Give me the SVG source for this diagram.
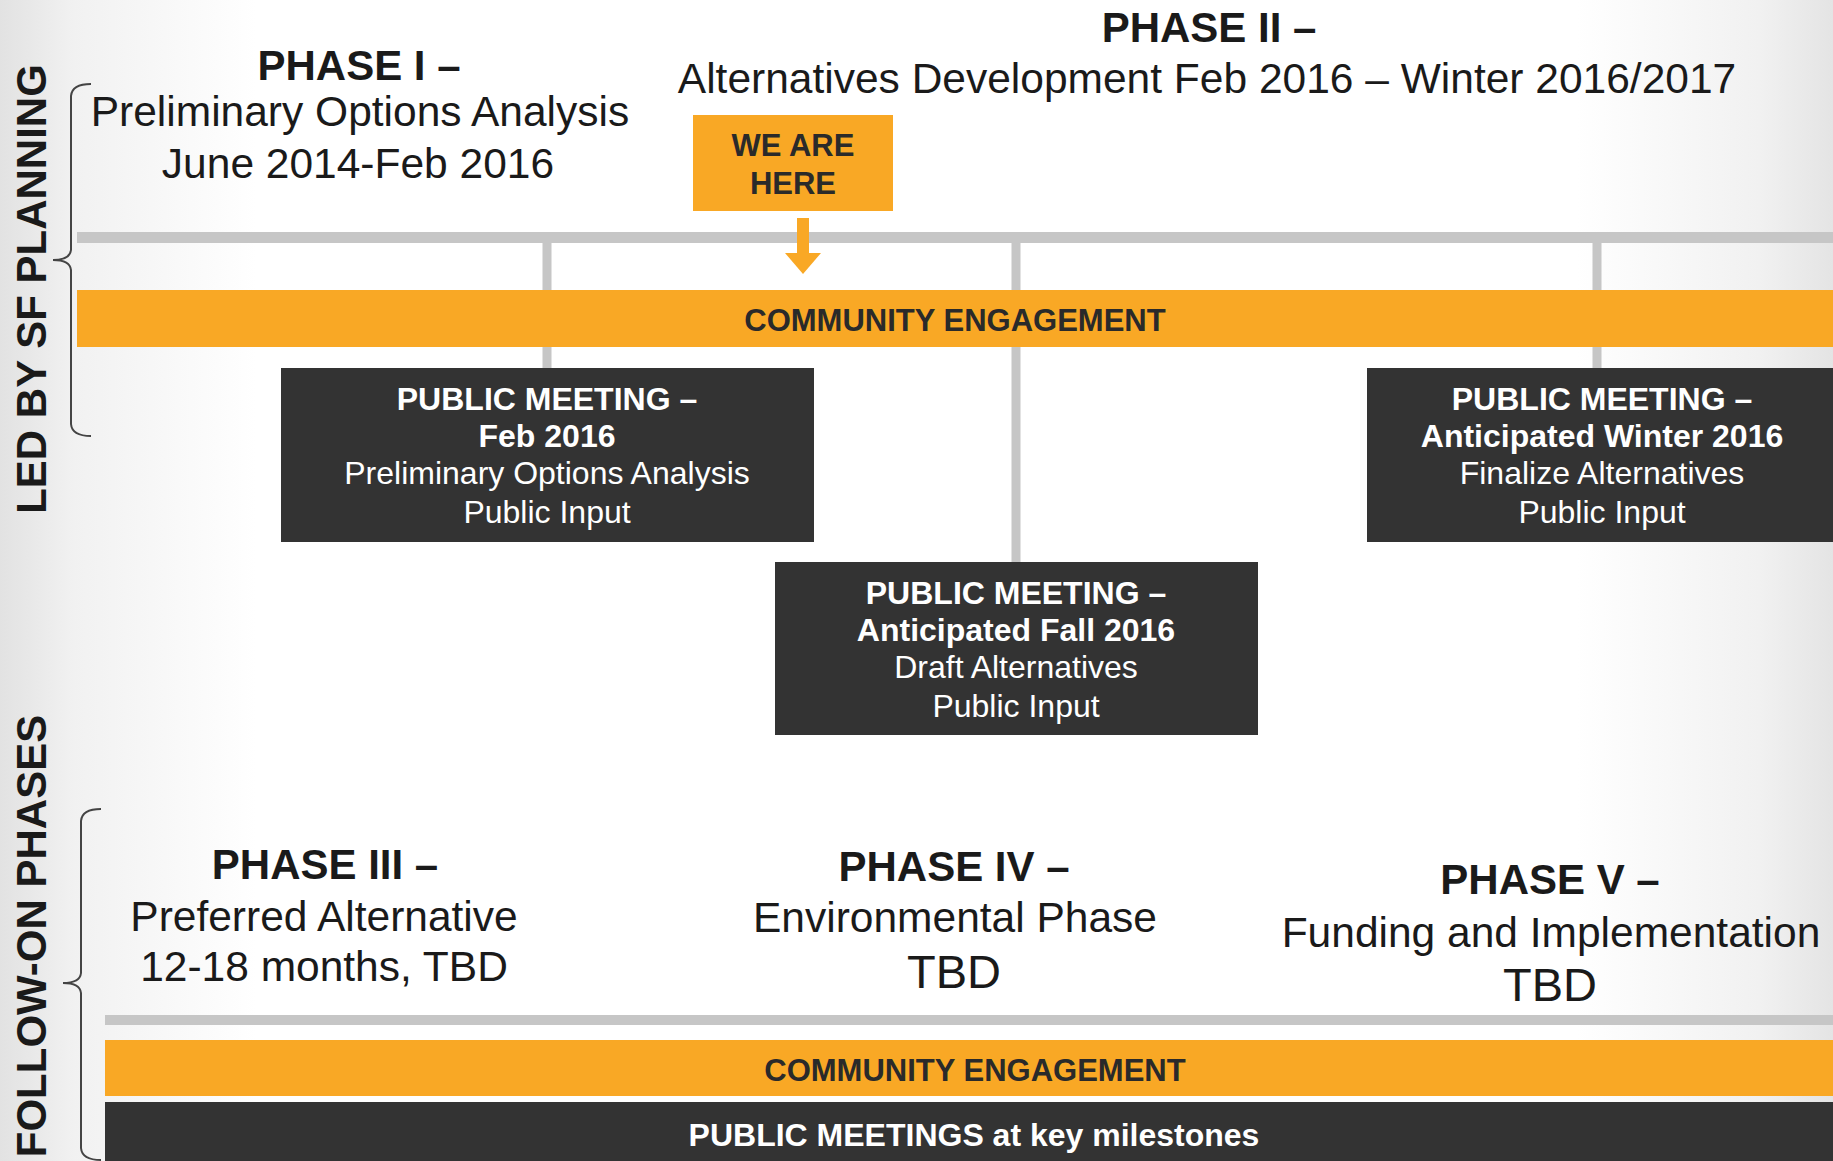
<svg xmlns="http://www.w3.org/2000/svg" width="1833" height="1161" viewBox="0 0 1833 1161">
  <defs>
    <linearGradient id="bgH" x1="0" y1="0" x2="1" y2="0">
      <stop offset="0" stop-color="#e2e2e2"/>
      <stop offset="0.04" stop-color="#f1f1f1"/>
      <stop offset="0.14" stop-color="#ffffff"/>
      <stop offset="0.86" stop-color="#ffffff"/>
      <stop offset="0.96" stop-color="#f1f1f1"/>
      <stop offset="1" stop-color="#e4e4e4"/>
    </linearGradient>
    <style>
      text { font-family: "Liberation Sans", Arial, Helvetica, sans-serif; text-anchor: middle; }
      .title { font-size: 42px; font-weight: bold; fill: #1a1a1a; }
      .sub { font-size: 42.5px; fill: #1a1a1a; }
      .tbd { font-size: 47px; fill: #1a1a1a; }
      .side { font-size: 42px; font-weight: bold; fill: #1a1a1a; }
      .band { fill: #f9a825; }
      .bandtxt { font-size: 31px; font-weight: bold; fill: #2a2a2a; }
      .box { fill: #333333; }
      .bh { font-size: 32px; font-weight: bold; fill: #ffffff; }
      .bt { font-size: 32px; fill: #ffffff; }
      .rail { fill: #c6c6c6; }
      .conn { stroke: #c6c6c6; stroke-width: 9; fill: none; }
      .brace { stroke: #444444; stroke-width: 2; fill: none; }
    </style>
  </defs>

  <rect x="0" y="0" width="1833" height="1161" fill="url(#bgH)"/>

  <!-- side labels and braces -->
  <g id="side-led">
    <text class="side" transform="translate(46,289) rotate(-90)">LED BY SF PLANNING</text>
    <path class="brace" d="M91,84 Q72,84 71,96 L71,250 Q70,260 53,260 Q70,260 71,270 L71,424 Q72,436 91,436"/>
  </g>
  <g id="side-follow">
    <text class="side" transform="translate(46,936) rotate(-90)">FOLLOW-ON PHASES</text>
    <path class="brace" d="M101,809 Q82,809 81,821 L81,973 Q80,983 63,983 Q80,983 81,993 L81,1148 Q82,1160 101,1160"/>
  </g>

  <!-- phase headings -->
  <g id="phase1">
    <text class="title" x="359" y="80">PHASE I –</text>
    <text class="sub" x="360" y="126">Preliminary Options Analysis</text>
    <text class="sub" x="358" y="178">June 2014-Feb 2016</text>
  </g>
  <g id="phase2">
    <text class="title" x="1209" y="42">PHASE II –</text>
    <text class="sub" x="1207" y="93">Alternatives Development Feb 2016 – Winter 2016/2017</text>
  </g>

  <!-- rails -->
  <rect class="rail" x="77" y="232" width="1756" height="11"/>

  <!-- connectors -->
  <g id="connectors">
    <line class="conn" x1="547" y1="243" x2="547" y2="368"/>
    <line class="conn" x1="1016" y1="243" x2="1016" y2="562"/>
    <line class="conn" x1="1597" y1="243" x2="1597" y2="368"/>
    <g id="here-arrow" fill="#f9a825">
      <rect x="797" y="218" width="12" height="36"/>
      <polygon points="785,253 821,253 803,274"/>
    </g>
  </g>

  <g id="we-are-here">
    <rect class="band" x="693" y="115" width="200" height="96"/>
    <text class="bandtxt" x="793" y="156">WE ARE</text>
    <text class="bandtxt" x="793" y="194">HERE</text>
  </g>

  <g id="community-engagement-1">
    <rect class="band" x="77" y="290" width="1756" height="57"/>
    <text class="bandtxt" x="955" y="331">COMMUNITY ENGAGEMENT</text>
  </g>

  <g id="meeting-feb2016">
    <rect class="box" x="281" y="368" width="533" height="174"/>
    <text class="bh" x="547" y="410">PUBLIC MEETING –</text>
    <text class="bh" x="547" y="447">Feb 2016</text>
    <text class="bt" x="547" y="484">Preliminary Options Analysis</text>
    <text class="bt" x="547" y="523">Public Input</text>
  </g>

  <g id="meeting-winter2016">
    <rect class="box" x="1367" y="368" width="466" height="174"/>
    <text class="bh" x="1602" y="410">PUBLIC MEETING –</text>
    <text class="bh" x="1602" y="447">Anticipated Winter 2016</text>
    <text class="bt" x="1602" y="484">Finalize Alternatives</text>
    <text class="bt" x="1602" y="523">Public Input</text>
  </g>

  <g id="meeting-fall2016">
    <rect class="box" x="775" y="562" width="483" height="173"/>
    <text class="bh" x="1016" y="604">PUBLIC MEETING –</text>
    <text class="bh" x="1016" y="641">Anticipated Fall 2016</text>
    <text class="bt" x="1016" y="678">Draft Alternatives</text>
    <text class="bt" x="1016" y="717">Public Input</text>
  </g>

  <!-- follow-on phases -->
  <g id="phase3">
    <text class="title" x="325" y="879">PHASE III –</text>
    <text class="sub" x="324" y="931">Preferred Alternative</text>
    <text class="sub" x="324" y="981">12-18 months, TBD</text>
  </g>
  <g id="phase4">
    <text class="title" x="954" y="881">PHASE IV –</text>
    <text class="sub" x="955" y="932">Environmental Phase</text>
    <text class="tbd" x="954" y="988">TBD</text>
  </g>
  <g id="phase5">
    <text class="title" x="1550" y="894">PHASE V –</text>
    <text class="sub" x="1551" y="947">Funding and Implementation</text>
    <text class="tbd" x="1550" y="1001">TBD</text>
  </g>

  <rect class="rail" x="105" y="1015" width="1728" height="10"/>

  <g id="community-engagement-2">
    <rect class="band" x="105" y="1040" width="1728" height="56"/>
    <text class="bandtxt" x="975" y="1081">COMMUNITY ENGAGEMENT</text>
  </g>

  <g id="public-meetings-milestones">
    <rect class="box" x="105" y="1102" width="1728" height="59"/>
    <text class="bh" x="974" y="1146">PUBLIC MEETINGS at key milestones</text>
  </g>
</svg>
